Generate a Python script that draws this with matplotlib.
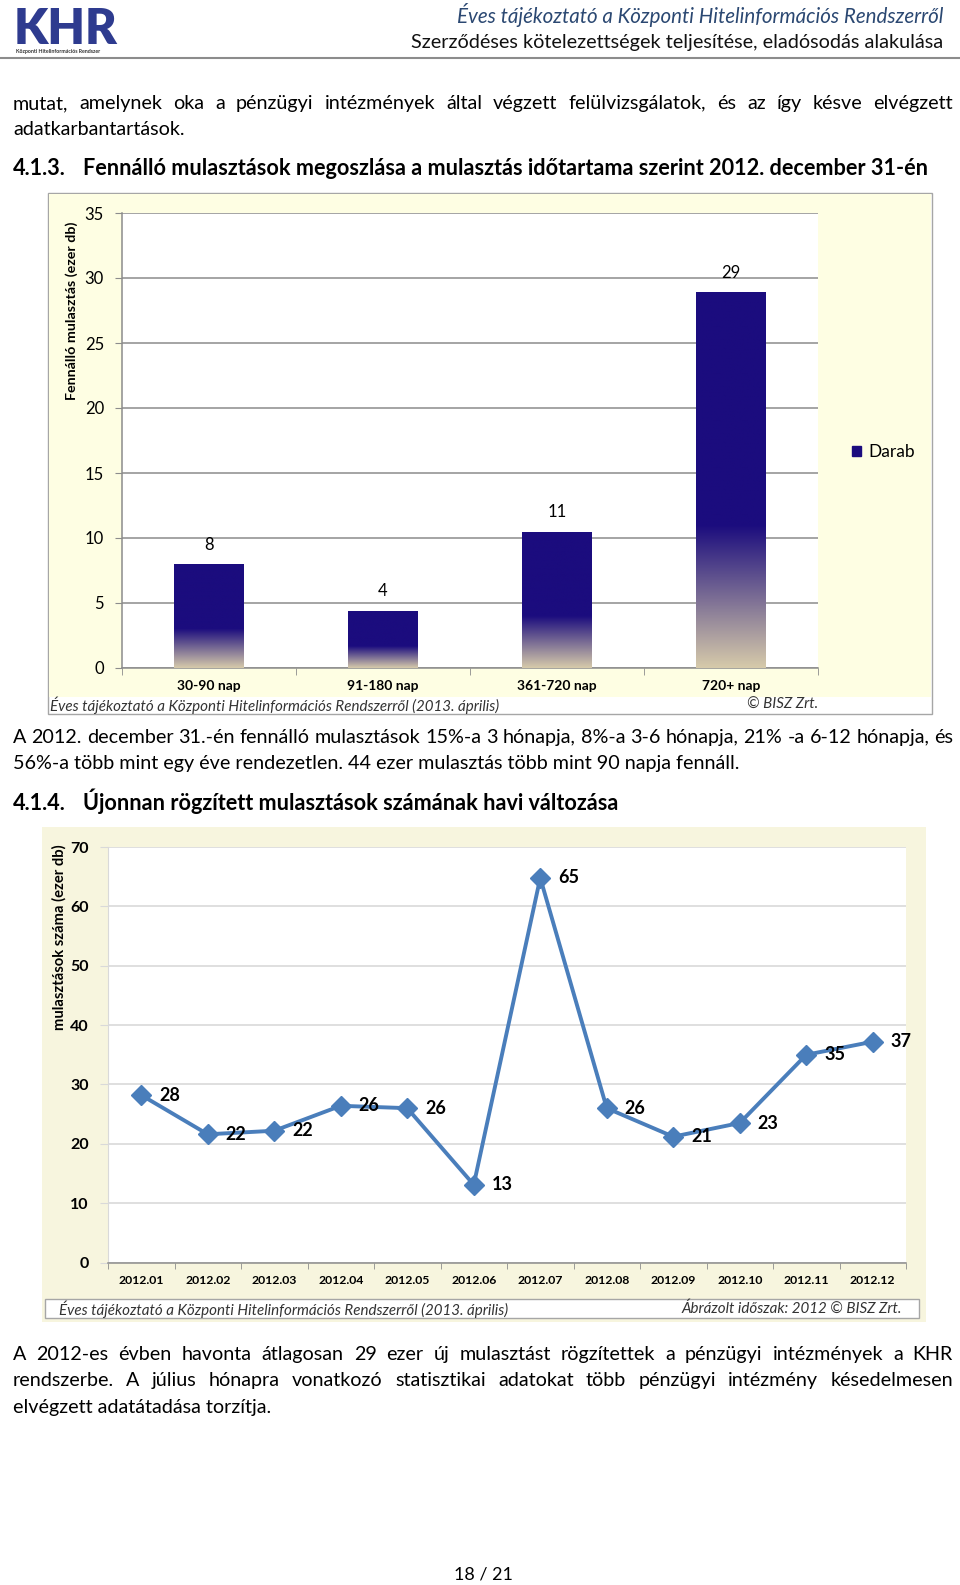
import numpy as np
import matplotlib
matplotlib.use("Agg")
import matplotlib.pyplot as plt
from matplotlib.patches import Rectangle, Patch
from matplotlib.colors import LinearSegmentedColormap

plt.rcParams['font.family'] = ['Lato', 'DejaVu Sans']

# chart 1 data: outstanding defaults by duration (thousand)
dur_labels = ['30-90 nap', '91-180 nap', '361-720 nap', '720+ nap']
dur_values = [8.0, 4.4, 10.5, 28.9]
dur_text = ['8', '4', '11', '29']

# chart 2 data: newly recorded defaults per month (thousand)
months = ['2012.01', '2012.02', '2012.03', '2012.04', '2012.05', '2012.06',
          '2012.07', '2012.08', '2012.09', '2012.10', '2012.11', '2012.12']
new_values = [28.2, 21.6, 22.2, 26.4, 26.0, 13.1, 64.8, 26.0, 21.2, 23.5, 35.0, 37.2]
new_text = ['28', '22', '22', '26', '26', '13', '65', '26', '21', '23', '35', '37']

W, H = 960, 1585
fig = plt.figure(figsize=(W / 100, H / 100), dpi=100)


def fx(x):
    return x / W


def fy(y):
    return 1 - y / H


def box(x0, y0, x1, y1, fc, ec='none', lw=1.0):
    fig.patches.append(Rectangle((fx(x0), fy(y1)), (x1 - x0) / W, (y1 - y0) / H,
                                 transform=fig.transFigure, facecolor=fc,
                                 edgecolor=ec, lw=lw, zorder=-5))


def line_text(y, text, size=14.2, weight='normal', justify=False, x0=13, x1=953):
    if not justify:
        fig.text(fx(x0), fy(y), text, fontsize=size, weight=weight, va='baseline')
        return
    words = text.split()
    r = fig.canvas.get_renderer()
    objs = [fig.text(0, fy(y), w, fontsize=size, weight=weight, va='baseline') for w in words]
    widths = [t.get_window_extent(r).width for t in objs]
    gap = (x1 - x0 - sum(widths)) / (len(words) - 1)
    x = x0
    for t, w in zip(objs, widths):
        t.set_x(fx(x))
        x += w + gap


# header
fig.text(fx(14), fy(44), 'KHR', fontsize=35, weight='heavy', color='#2E3B8F', va='baseline')
fig.text(fx(16), fy(52), 'Központi Hitelinformációs Rendszer', fontsize=3.8, weight='bold',
         color='#333333', va='center')
fig.text(fx(943), fy(23), 'Éves tájékoztató a Központi Hitelinformációs Rendszerről',
         fontsize=14.8, style='italic', color='#2B4872', ha='right', va='baseline')
fig.text(fx(943), fy(48), 'Szerződéses kötelezettségek teljesítése, eladósodás alakulása',
         fontsize=14.3, color='#111111', ha='right', va='baseline')
fig.lines.append(plt.Line2D([0, 1], [fy(58), fy(58)], transform=fig.transFigure,
                            color='#8C8C8C', lw=1.5))

# body text
line_text(109, 'mutat, amelynek oka a pénzügyi intézmények által végzett felülvizsgálatok, '
               'és az így késve elvégzett', justify=True)
line_text(135, 'adatkarbantartások.')
line_text(175, '4.1.3.', size=15.6, weight='bold')
line_text(175, 'Fennálló mulasztások megoszlása a mulasztás időtartama szerint 2012. december 31-én',
          size=15.6, weight='bold', x0=83)
line_text(743, 'A 2012. december 31.-én fennálló mulasztások 15%-a 3 hónapja, 8%-a 3-6 hónapja, '
               '21% -a 6-12 hónapja, és', justify=True)
line_text(769, '56%-a több mint egy éve rendezetlen. 44 ezer mulasztás több mint 90 napja fennáll.')
line_text(810, '4.1.4.', size=15.6, weight='bold')
line_text(810, 'Újonnan rögzített mulasztások számának havi változása', size=15.6, weight='bold', x0=83)
line_text(1360, 'A 2012-es évben havonta átlagosan 29 ezer új mulasztást rögzítettek a pénzügyi '
                'intézmények a KHR', justify=True)
line_text(1386, 'rendszerbe. A július hónapra vonatkozó statisztikai adatokat több pénzügyi '
                'intézmény késedelmesen', justify=True)
line_text(1413, 'elvégzett adatátadása torzítja.')
fig.text(fx(483), fy(1579), '18 / 21', fontsize=13, ha='center', va='baseline')

# ---- chart 1 ----
box(48, 193, 932, 714, 'white', ec='#A6A6A6')
box(49, 194, 931, 697, '#FEFEE3')
ax1 = fig.add_axes([fx(122), fy(668), (818 - 122) / W, (668 - 213) / H])
x1 = np.arange(len(dur_labels))
bars = ax1.bar(x1, dur_values, width=0.4, color='none', edgecolor='none', zorder=3)
cmap = LinearSegmentedColormap.from_list('g', [(0, '#D6CAAA'), (0.38, '#1B0C7E'), (1, '#1B0C7E')])
grad = np.linspace(0, 1, 256).reshape(-1, 1)
for b in bars:
    im = ax1.imshow(grad, cmap=cmap, origin='lower', aspect='auto', zorder=3,
                    extent=[b.get_x(), b.get_x() + b.get_width(), 0, b.get_height()])
    im.set_clip_path(b)
for xi, v, t in zip(x1, dur_values, dur_text):
    ax1.annotate(t, (xi, v), xytext=(0, 14), textcoords='offset points',
                 ha='center', va='center', fontsize=12)
ax1.set_xlim(-0.5, len(dur_labels) - 0.5)
ax1.set_ylim(0, 35)
ax1.set_yticks(range(0, 36, 5))
ax1.set_xticks(x1)
ax1.set_xticklabels(dur_labels, fontsize=10, weight='bold')
ax1.set_xticks(np.arange(-0.5, len(dur_labels)), minor=True)
ax1.tick_params(axis='x', which='major', length=0, pad=9)
ax1.tick_params(axis='x', which='minor', length=5, color='#8C8C8C', direction='out')
ax1.tick_params(axis='y', length=5, color='#8C8C8C', labelsize=12, pad=8)
ax1.grid(axis='y', color='#8C8C8C', lw=1.1, zorder=0)
ax1.set_axisbelow(True)
for s in ['top', 'right']:
    ax1.spines[s].set_visible(False)
for s in ['left', 'bottom']:
    ax1.spines[s].set_color('#8C8C8C')
    ax1.spines[s].set_linewidth(1.1)
fig.text(fx(72), fy(311), 'Fennálló mulasztás (ezer db)', rotation=90, fontsize=10.3,
         weight='bold', ha='center', va='center')
ax1.legend(handles=[Patch(color='#1B0C7E', label='Darab')], loc='center left',
           bbox_to_anchor=(fx(836), fy(452)), bbox_transform=fig.transFigure,
           frameon=False, fontsize=12.5, handlelength=0.55, handleheight=0.55, handletextpad=0.4)
fig.text(fx(50), fy(705), 'Éves tájékoztató a Központi Hitelinformációs Rendszerről (2013. április)',
         fontsize=10.9, style='italic', color='#333333', va='center')
fig.text(fx(818), fy(705), '© BISZ Zrt.', fontsize=10.9, style='italic', color='#333333',
         ha='right', va='center')

# ---- chart 2 ----
box(42, 827, 926, 1322, '#F7F5DE')
box(45, 1299, 919, 1318, 'white', ec='#A6A6A6')
ax2 = fig.add_axes([fx(108), fy(1262.5), (906 - 108) / W, (1262.5 - 847) / H])
x2 = np.arange(len(months))
ax2.plot(x2, new_values, color='#4A7EBB', lw=2.8, marker='D', markersize=10, zorder=3)
for xi, v, t in zip(x2, new_values, new_text):
    ax2.annotate(t, (xi, v), xytext=(13, 0), textcoords='offset points',
                 ha='left', va='center', fontsize=13, weight='bold', zorder=4)
ax2.set_xlim(-0.5, len(months) - 0.5)
ax2.set_ylim(0, 70)
ax2.set_yticks(range(0, 71, 10))
ax2.set_yticklabels([str(v) for v in range(0, 71, 10)], fontsize=11.5, weight='bold')
ax2.set_xticks(x2)
ax2.set_xticklabels(months, fontsize=8.8, weight='bold')
ax2.set_xticks(np.arange(-0.5, len(months)), minor=True)
ax2.tick_params(axis='x', which='major', length=0, pad=9)
ax2.tick_params(axis='x', which='minor', length=4, color='#8C8C8C', direction='out')
ax2.tick_params(axis='y', length=6, color='#D9D9D9', pad=8)
ax2.grid(axis='y', color='#D9D9D9', lw=1.2, zorder=0)
ax2.set_axisbelow(True)
for s in ['top', 'right']:
    ax2.spines[s].set_visible(False)
ax2.spines['left'].set_color('#D9D9D9')
ax2.spines['bottom'].set_color('#8C8C8C')
ax2.spines['bottom'].set_linewidth(1.1)
fig.text(fx(59), fy(937), 'mulasztások száma (ezer db)', rotation=90, fontsize=10.6,
         weight='bold', ha='center', va='center')
fig.text(fx(59), fy(1309), 'Éves tájékoztató a Központi Hitelinformációs Rendszerről (2013. április)',
         fontsize=10.9, style='italic', color='#333333', va='center')
fig.text(fx(902), fy(1309), 'Ábrázolt időszak: 2012 © BISZ Zrt.', fontsize=10.9, style='italic',
         color='#333333', ha='right', va='center')

fig.savefig('out.png', dpi=100)
